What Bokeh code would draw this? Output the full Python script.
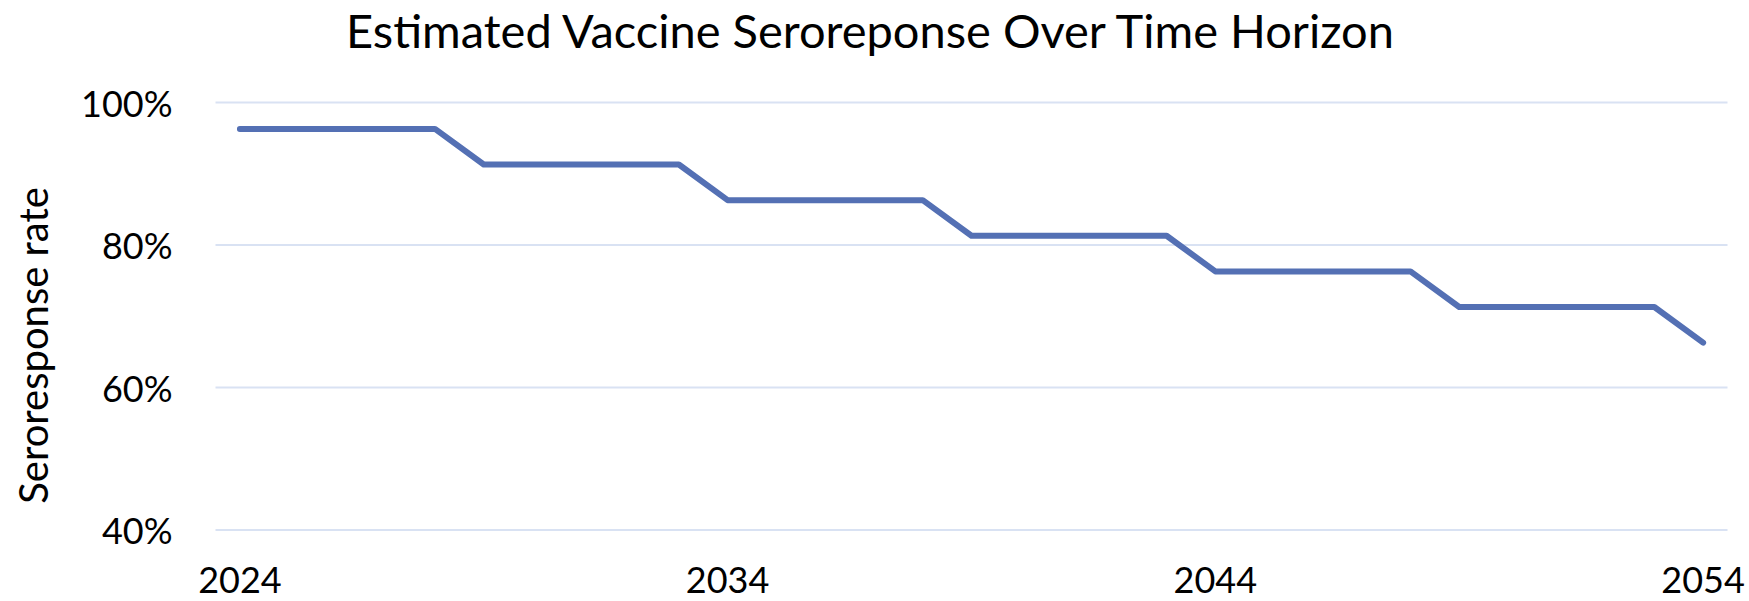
import math
from bokeh.plotting import figure
from bokeh.models import FixedTicker, Range1d, NumeralTickFormatter, Label
from bokeh.embed import file_html
from bokeh.resources import INLINE

years = list(range(2024, 2055))
rates = [0.963] * 5 + [0.913] * 5 + [0.863] * 5 + [0.813] * 5 + [0.763] * 5 + [0.713] * 5 + [0.663]
x_ticks = [2024, 2034, 2044, 2054]
y_ticks = [0.4, 0.6, 0.8, 1.0]
title_text = "Estimated Vaccine Seroreponse Over Time Horizon"
y_title = "Seroresponse rate"

FONT = "Lato"
X0, X1 = 2023.5, 2054.5            # plotted category span
PX_PER_YEAR = 1512 / 31
X_START = X0 - 215 / PX_PER_YEAR    # room on the left for the axis texts
X_END = X1 + 22 / PX_PER_YEAR       # room on the right for the last tick label
PX_PER_UNIT = 712.6
Y0 = 0.398                          # bottom of the plotting area
Y_START = Y0 - 70 / PX_PER_UNIT     # room below for the x tick labels
Y_END = Y0 + 531 / PX_PER_UNIT      # room above for the title

p = figure(width=1749, height=601, output_backend="svg", toolbar_location=None,
           x_range=Range1d(X_START, X_END), y_range=Range1d(Y_START, Y_END),
           min_border_left=0, min_border_right=0, min_border_top=0, min_border_bottom=0)
p.title.visible = False
p.outline_line_color = None
p.background_fill_color = "white"
p.border_fill_color = "white"

# horizontal gridlines only across the plotting area
p.segment(x0=[X0] * len(y_ticks), x1=[X1] * len(y_ticks), y0=y_ticks, y1=y_ticks,
          line_color="#D9E2F3", line_width=2)

p.line(years, rates, line_color="#5470B4", line_width=6, line_cap="round", line_join="round")

title = Label(x=X_START + 871.5 / PX_PER_YEAR, y=Y0 + (531 - 29) / PX_PER_UNIT, text=title_text,
              text_font=FONT, text_font_size="47px", text_color="#000000",
              text_align="center", text_baseline="alphabetic")
p.add_layout(title)

ylab = Label(x=X_START + 32 / PX_PER_YEAR, y=Y0 + (531 - 345) / PX_PER_UNIT, text=y_title,
             angle=math.pi / 2, text_font=FONT, text_font_size="40px", text_color="#000000",
             text_align="center", text_baseline="alphabetic")
p.add_layout(ylab)

p.xaxis.ticker = FixedTicker(ticks=x_ticks)
p.yaxis.ticker = FixedTicker(ticks=y_ticks)
p.yaxis.formatter = NumeralTickFormatter(format="0%")
p.yaxis.fixed_location = X0
p.xaxis.fixed_location = Y0
for ax in (p.xaxis, p.yaxis):
    ax.axis_line_color = None
    ax.major_tick_line_color = None
    ax.minor_tick_line_color = None
    ax.major_label_text_font = FONT
    ax.major_label_text_font_size = "36px"
    ax.major_label_text_color = "#000000"
p.yaxis.major_label_standoff = 37
p.xaxis.major_label_standoff = 29

p.xgrid.grid_line_color = None
p.ygrid.grid_line_color = None

open("out.html", "w").write(file_html(p, INLINE))
